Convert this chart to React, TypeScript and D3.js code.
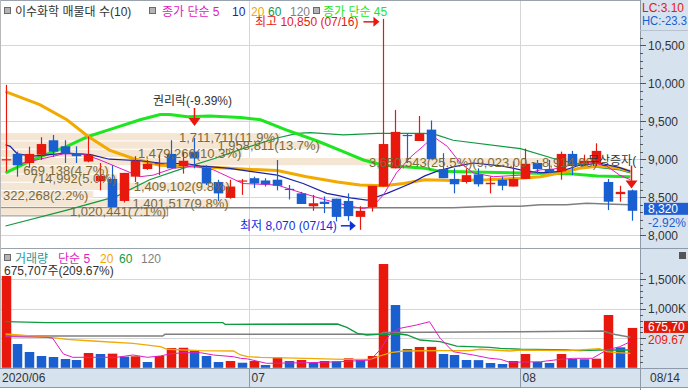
import React from "react";
import * as d3 from "d3";

// ---------------- data ----------------
const opens = [8990, 9070, 8950, 9060, 9250, 9170, 9070, 8970, 8710, 8740, 8450, 8770, 8870, 8940, 9070, 8910, 9100, 8890, 8700, 8490, 8710, 8750, 8720, 8730, 8610, 8550, 8380, 8440, 8480, 8450, 8240, 8370, 8640, 8880, 9320, 9240, 9390, 8870, 8740, 8700, 8800, 8670, 8730, 8640, 8740, 8950, 8870, 8840, 9070, 8940, 8950, 8700, 8540, 8590];
const highs = [9980, 9100, 9165, 9290, 9320, 9250, 9170, 9300, 8950, 8920, 8820, 9040, 8990, 9060, 9250, 9100, 9280, 8920, 8730, 8730, 8740, 8770, 8750, 8990, 8660, 8570, 8530, 8510, 8480, 8550, 8380, 8650, 10850, 9650, 9340, 9570, 9510, 9080, 8880, 8880, 8880, 8770, 8770, 8970, 9140, 8990, 8990, 9100, 9110, 9060, 9210, 8740, 8650, 8600];
const lows = [8840, 8770, 8890, 8990, 9030, 8950, 8950, 8960, 8590, 8370, 8430, 8700, 8860, 8790, 8880, 8810, 8880, 8660, 8450, 8480, 8530, 8620, 8640, 8590, 8470, 8410, 8320, 8290, 8180, 8190, 8070, 8310, 8640, 8880, 8950, 9240, 9000, 8750, 8550, 8680, 8640, 8550, 8590, 8640, 8740, 8810, 8820, 8730, 8790, 8910, 8910, 8330, 8440, 8190];
const closes = [9000, 8920, 9070, 9200, 9100, 9070, 9040, 9060, 8780, 8370, 8820, 8980, 8940, 8950, 8880, 8980, 9010, 8680, 8550, 8640, 8720, 8680, 8670, 8650, 8600, 8410, 8420, 8410, 8240, 8250, 8320, 8650, 9200, 9360, 9310, 9340, 9000, 8750, 8670, 8790, 8670, 8690, 8650, 8740, 8940, 8870, 8830, 9070, 8910, 8980, 9110, 8440, 8570, 8320];
const volumes = [1556000, 403000, 268000, 200000, 183000, 149000, 132000, 251000, 234000, 240000, 189000, 195000, 98000, 200000, 336000, 340000, 290000, 200000, 98000, 115000, 86000, 115000, 47000, 178000, 115000, 132000, 86000, 115000, 110000, 161000, 144000, 200000, 1759000, 1064000, 319000, 353000, 355000, 234000, 217000, 132000, 130000, 81000, 64000, 115000, 234000, 98000, 81000, 234000, 149000, 145000, 155000, 895000, 347000, 675707];

// moving averages: [bar index, value]
const ma5Points: [number, number][] = [[1.2,8940],[2.9,9000],[4.9,9070],[6.6,9070],[8,8990],[9.7,8880],[11.4,8770],[12.5,8790],[14.2,8880],[15.9,8910],[17.6,8860],[20.1,8680],[23,8660],[25.2,8550],[27.2,8460],[29.2,8380],[30.3,8350],[31.1,8380],[32,8530],[33.1,8820],[34.3,9030],[35.5,9190],[36.2,9300],[37.4,9170],[38.5,8950],[39.6,8820],[41.3,8770],[43.6,8790],[45.3,8860],[46.4,8870],[47.8,8920],[49.2,8970],[50.9,8910],[52,8790],[52.9,8730]];
const ma10Points: [number, number][] = [[0,9190],[0.4,9170],[1,9070],[2.3,9040],[5.2,9080],[7.2,9060],[8.8,9000],[11.4,8980],[13.1,8950],[15.4,8940],[16.5,8910],[17.5,8900],[19,8880],[20.7,8840],[23,8790],[25.2,8680],[27.2,8550],[29.2,8490],[30.6,8460],[32.3,8550],[34.3,8680],[35.5,8780],[36.5,8840],[37.9,8900],[39.6,8950],[42.1,8910],[43.6,8860],[45.3,8820],[47,8840],[48.6,8920],[50.3,8950],[52,8890],[52.9,8840]];
const ma20Points: [number, number][] = [[0,9890],[2.9,9720],[5.2,9520],[7,9300],[8.8,9120],[10.8,9010],[13.1,8920],[15.4,8910],[17.7,8890],[20.1,8870],[23,8850],[25.5,8770],[28.1,8700],[30,8660],[32,8650],[33.7,8680],[35.5,8730],[37.9,8720],[40.8,8730],[43.6,8750],[45.3,8770],[47,8820],[48.6,8880],[50.3,8910],[52,8880],[52.9,8840]];
const ma45Points: [number, number][] = [[0,8820],[2.3,8990],[5.2,9170],[7,9300],[8.8,9390],[11.4,9520],[13.1,9590],[13.9,9590],[15.4,9560],[17.3,9570],[19.9,9550],[21.6,9520],[23.7,9390],[26.4,9240],[28.6,9100],[30.3,8990],[32,8920],[35.5,8880],[36.8,8840],[43.6,8820],[47.8,8810],[50.1,8780],[52.9,8770]];
const ma60Points: [number, number][] = [[0,8120],[5.2,8330],[9.4,8510],[12.2,8730],[15.4,8900],[17.7,9010],[20.1,9140],[23,9280],[24.7,9340],[25.8,9350],[28.6,9320],[31.5,9340],[35.5,9340],[36.5,9320],[37.9,9250],[43.6,9140],[46.4,9010],[49.2,8910],[52,8860],[52.9,8820]];
const ma120Points: [number, number][] = [[10.4,8360],[37.9,8360],[41.3,8380],[43.6,8380],[45.3,8400],[47.5,8400],[49.2,8420],[50.9,8410],[52.9,8400]];

const vma5Points: [number, number][] = [[0,527000],[3.5,517000],[4,500000],[4.9,234000],[5.7,178000],[9.4,178000],[10.8,217000],[12,178000],[13.1,200000],[13.9,234000],[15,256000],[16.5,256000],[17.6,217000],[19.3,188000],[19.9,161000],[20.5,150000],[22.1,76000],[25.5,86000],[28.3,103000],[30.9,132000],[31.7,302000],[32.6,585000],[33.4,669000],[34.8,725000],[35.9,781000],[36.8,500000],[37.9,273000],[39.6,217000],[41,161000],[41.9,144000],[42.7,93000],[45.3,103000],[47,144000],[48.1,161000],[49.7,161000],[50.9,302000],[52,358000],[52.9,442000]];
const vma20Points: [number, number][] = [[0,573000],[3.8,517000],[5.2,483000],[7.4,454000],[10.8,415000],[13.1,358000],[13.7,314000],[16.5,290000],[19.3,285000],[19.9,217000],[20.5,188000],[21.6,178000],[25.5,161000],[28.6,144000],[30.9,144000],[31.7,200000],[32.6,256000],[33.7,285000],[36.8,290000],[39.3,290000],[40.2,314000],[42.7,285000],[43.6,302000],[47.5,290000],[48.6,302000],[50.3,324000],[50.9,273000],[51.8,256000],[52.9,246000]];
const vma60Points: [number, number][] = [[0,781000],[3.5,764000],[18.4,764000],[18.6,737000],[28.1,742000],[28.9,686000],[29.8,585000],[30.6,556000],[31.5,568000],[33.4,573000],[34,556000],[35.1,471000],[36.8,442000],[38.2,369000],[41,347000],[41.9,330000],[43.6,314000],[47.5,302000],[48.6,290000],[50.3,302000],[52.9,302000]];
const vma120Points: [number, number][] = [[0,539000],[13.3,539000],[13.5,568000],[31.7,568000],[32,598000],[43.6,612000],[50.6,624000],[51.4,573000],[52.9,517000]];

// volume-at-price bands, bottom to top
const profileVolumes = [1020441, 1401517, 322268, 1409102, 714992, 669138, 3650543, 1479266, 1958811, 1711711];
const profilePercents = ["7.1", "9.8", "2.2", "9.8", "5.0", "4.7", "25.5", "10.3", "13.7", "11.9"];
const profileLow = 8260;
const profileStep = 109;

const priceTicks = [8000, 8500, 9000, 9500, 10000, 10500];
const volumeTicks = [500000, 1000000, 1500000];
const volumeTickLabels = ["", "1,000K", "1,500K"];
const monthTickIndex = [0, 21, 44];
const monthTickLabels = ["2020/06", "07", "08"];
const lastDateLabel = "08/14";
const exRightsIndex = 16;
const bonusIndex = 53;

// ---------------- styles ----------------
const W = 688;
const H = 390;
const FONT = "'Liberation Sans', 'Noto Sans CJK KR', sans-serif";
const RED = "#e8190c";
const BLUE = "#1a5fd0";
const PANEL_BG = "#d7e2ef";
const GRID = "#d6d6d6";
const PLOT_R = 640;
const PRICE_TOP = 0, PRICE_BOT = 248;
const VOL_TOP = 250, VOL_BOT = 368;

let _ctx: CanvasRenderingContext2D | null = null;
function textWidth(s: string, font: string) {
  if (!_ctx) _ctx = document.createElement("canvas").getContext("2d");
  if (!_ctx) return s.length * 7;
  _ctx.font = font;
  return _ctx.measureText(s).width;
}
const fmt = d3.format(",");

export default function App() {
  const N = closes.length;
  const x = d3.scaleLinear().domain([0, N - 1]).range([5.5, 631.5]);
  const py = d3.scaleLinear().domain([8000, 10500]).range([235.1, 45.4]);
  const vy = d3.scaleLinear().domain([0, 1500000]).range([367.8, 279.3]);
  const bw = 9.5;

  const pline = d3.line<[number, number]>().x(d => x(d[0])).y(d => py(d[1]));
  const vline = d3.line<[number, number]>().x(d => x(d[0])).y(d => vy(d[1]));

  const hiIdx = d3.maxIndex(highs);
  const loIdx = d3.minIndex(lows);
  const last = N - 1;
  const chg = ((closes[last] - closes[last - 1]) / closes[last - 1]) * 100;

  const profileMax = d3.max(profileVolumes) as number;
  const profileTotal = d3.sum(profileVolumes);
  const pw = d3.scaleLinear().domain([0, profileMax]).range([0, 598]);
  const labelFont = `13px ${"Liberation Sans"}`;
  const curBand = Math.floor((closes[last] - profileLow) / profileStep);

  const minorPrice = d3.range(8000, 10900, 100);
  const minorVol = d3.range(0, 1700000, 100000);

  const monthX = monthTickIndex.map(i => (i === 0 ? 0 : Math.round(x(i) - bw / 2) + 0.5));

  return (
    <div style={{ position: "fixed", left: 0, top: 0, width: W, height: H, background: "#fff" }}>
      <svg width={W} height={H} style={{ display: "block", fontFamily: FONT }}>
        <defs>
          <clipPath id="cp-price"><rect x={0} y={PRICE_TOP} width={PLOT_R} height={PRICE_BOT - PRICE_TOP} /></clipPath>
          <clipPath id="cp-vol"><rect x={0} y={VOL_TOP} width={PLOT_R} height={VOL_BOT - VOL_TOP} /></clipPath>
        </defs>
        <rect x={0} y={0} width={W} height={H} fill="#fff" />

        {/* grid lines */}
        {priceTicks.map(t => (
          <line key={"pg" + t} x1={0} x2={PLOT_R} y1={Math.round(py(t)) + 0.5} y2={Math.round(py(t)) + 0.5} stroke={GRID} />
        ))}
        {volumeTicks.map(t => (
          <line key={"vg" + t} x1={0} x2={PLOT_R} y1={Math.round(vy(t)) + 0.5} y2={Math.round(vy(t)) + 0.5} stroke={GRID} />
        ))}
        {monthX.slice(1).map((mx, k) => (
          <line key={"mg" + k} x1={mx} x2={mx} y1={0} y2={VOL_BOT} stroke={GRID} />
        ))}

        {/* price panel */}
        <g clipPath="url(#cp-price)">
          {profileVolumes.map((v, k) => {
            const yTop = py(profileLow + (k + 1) * profileStep);
            const yBot = py(profileLow + k * profileStep);
            const label = `${fmt(v)}(${profilePercents[k]}%)`;
            const tw = textWidth(label, labelFont);
            const barW = pw(v);
            const fillW = Math.max(barW, tw + 8);
            return (
              <g key={"pb" + k}>
                <rect x={0} y={yTop + 0.5} width={fillW} height={yBot - yTop - 1} fill="#f4e6d3" />
                {k === curBand && (
                  <rect x={0.5} y={yTop + 0.5} width={barW} height={yBot - yTop} fill="none" stroke="#8c8c8c" />
                )}
              </g>
            );
          })}

          <path d={pline(ma120Points) || ""} fill="none" stroke="#7f7f7f" strokeWidth={1.5} />
          <path d={pline(ma60Points) || ""} fill="none" stroke="#0f9a40" strokeWidth={1.2} />
          <path d={pline(ma45Points) || ""} fill="none" stroke="#1ee61e" strokeWidth={3} />
          <path d={pline(ma20Points) || ""} fill="none" stroke="#f2a900" strokeWidth={3} />
          <path d={pline(ma10Points) || ""} fill="none" stroke="#1c22a8" strokeWidth={1.2} />
          <path d={pline(ma5Points) || ""} fill="none" stroke="#e01cc0" strokeWidth={1} />

          {closes.map((c, i) => {
            const o = opens[i];
            const up = c >= o;
            const col = up ? RED : BLUE;
            const cx = Math.round(x(i)) + 0.5;
            const yT = py(Math.max(o, c));
            const yB = py(Math.min(o, c));
            return (
              <g key={"c" + i}>
                <line x1={cx} x2={cx} y1={py(highs[i])} y2={py(lows[i])} stroke={col} strokeWidth={1.2} />
                <rect x={cx - bw / 2} y={yT} width={bw} height={Math.max(1.2, yB - yT)} fill={col} />
              </g>
            );
          })}

          {/* volume-at-price labels */}
          {profileVolumes.map((v, k) => {
            const yMid = py(profileLow + (k + 0.5) * profileStep);
            const label = k === profileVolumes.indexOf(profileMax)
              ? `${fmt(v)}(${((v / profileTotal) * 100).toFixed(1)}%)(${fmt(profileLow + (k + 1) * profileStep)}.00 ~ ${fmt(profileLow + k * profileStep)}.00)`
              : `${fmt(v)}(${profilePercents[k]}%)`;
            const tw = textWidth(label, labelFont);
            const barW = pw(v);
            const right = barW >= tw + 4;
            return (
              <text key={"pl" + k} x={right ? barW - 1 : 3} y={yMid + 5} textAnchor={right ? "end" : "start"}
                fontSize={13} fontFamily="Liberation Sans" fill="#7b6a3b">{label}</text>
            );
          })}

          {/* annotations */}
          <text x={x(exRightsIndex) - 2} y={py(highs[exRightsIndex]) - 33} textAnchor="middle" fontSize={12} fill="#333">권리락(-9.39%)</text>
          <line x1={x(exRightsIndex)} x2={x(exRightsIndex)} y1={py(highs[exRightsIndex]) - 30} y2={py(highs[exRightsIndex]) - 19} stroke={RED} strokeWidth={1.5} />
          <path d={`M${x(exRightsIndex) - 6},${py(highs[exRightsIndex]) - 20} L${x(exRightsIndex) + 6},${py(highs[exRightsIndex]) - 20} L${x(exRightsIndex)},${py(highs[exRightsIndex]) - 12} Z`} fill={RED} />

          <text x={588} y={py(highs[bonusIndex]) - 25} fontSize={12} fill="#333">무상증자(</text>
          <line x1={x(bonusIndex)} x2={x(bonusIndex)} y1={py(highs[bonusIndex]) - 24} y2={py(highs[bonusIndex]) - 8} stroke={RED} strokeWidth={1.5} />
          <path d={`M${x(bonusIndex) - 6},${py(highs[bonusIndex]) - 9} L${x(bonusIndex) + 6},${py(highs[bonusIndex]) - 9} L${x(bonusIndex)},${py(highs[bonusIndex]) - 1} Z`} fill={RED} />

          <text x={x(hiIdx) - 25} y={py(highs[hiIdx]) + 7.5} textAnchor="end" fontSize={12} fill={RED}>{`최고 ${fmt(highs[hiIdx])} (07/16)`}</text>
          <line x1={x(hiIdx) - 20} x2={x(hiIdx) - 9} y1={py(highs[hiIdx]) + 3} y2={py(highs[hiIdx]) + 3} stroke={RED} strokeWidth={1.5} />
          <path d={`M${x(hiIdx) - 10},${py(highs[hiIdx]) - 2} L${x(hiIdx) - 4},${py(highs[hiIdx]) + 3} L${x(hiIdx) - 10},${py(highs[hiIdx]) + 8} Z`} fill={RED} />

          <text x={x(loIdx) - 23} y={py(lows[loIdx]) + 0} textAnchor="end" fontSize={12} fill="#1030e0">{`최저 ${fmt(lows[loIdx])} (07/14)`}</text>
          <line x1={x(loIdx) - 19} x2={x(loIdx) - 9} y1={py(lows[loIdx]) - 4} y2={py(lows[loIdx]) - 4} stroke="#1030e0" strokeWidth={1.5} />
          <path d={`M${x(loIdx) - 10},${py(lows[loIdx]) - 9} L${x(loIdx) - 4},${py(lows[loIdx]) - 4} L${x(loIdx) - 10},${py(lows[loIdx]) + 1} Z`} fill="#1030e0" />
        </g>

        {/* price legend */}
        <rect x={4.5} y={7.5} width={6} height={6} fill="#b4b4b4" stroke="#6a6a6a" />
        <text x={15} y={15.5} fontSize={12} fill="#333">이수화학 매물대 수(10)</text>
        <rect x={149.5} y={7.5} width={6} height={6} fill="#b4b4b4" stroke="#6a6a6a" />
        <text x={162} y={15.5} fontSize={12} fill="#e01cc0">종가 단순 5</text>
        <text x={232} y={15.5} fontSize={12} fill="#1c22a8">10</text>
        <text x={251} y={15.5} fontSize={12} fill="#f2a900">20</text>
        <text x={268} y={15.5} fontSize={12} fill="#0f9a40">60</text>
        <text x={290} y={15.5} fontSize={12} fill="#7f7f7f">120</text>
        <rect x={313.5} y={7.5} width={6} height={6} fill="#b4b4b4" stroke="#6a6a6a" />
        <text x={323} y={15.5} fontSize={12} fill="#1ee61e">종가 단순 45</text>

        {/* volume panel */}
        <g clipPath="url(#cp-vol)">
          {volumes.map((v, i) => {
            const up = i === 0 || v >= volumes[i - 1];
            const cx = Math.round(x(i)) + 0.5;
            return <rect key={"v" + i} x={cx - bw / 2} y={vy(v)} width={bw} height={vy(0) - vy(v)} fill={up ? RED : BLUE} />;
          })}
          <path d={vline(vma120Points) || ""} fill="none" stroke="#7f7f7f" strokeWidth={1.5} />
          <path d={vline(vma60Points) || ""} fill="none" stroke="#0f9a40" strokeWidth={1.3} />
          <path d={vline(vma20Points) || ""} fill="none" stroke="#f2a900" strokeWidth={1.3} />
          <path d={vline(vma5Points) || ""} fill="none" stroke="#e01cc0" strokeWidth={1} />
        </g>
        <rect x={4.5} y={254.5} width={6} height={6} fill="#b4b4b4" stroke="#6a6a6a" />
        <text x={15} y={263} fontSize={12} fill="#2a9a9a">거래량</text>
        <text x={58} y={263} fontSize={12} fill="#e01cc0">단순 5</text>
        <text x={100} y={263} fontSize={12} fill="#f2a900">20</text>
        <text x={119} y={263} fontSize={12} fill="#0f9a40">60</text>
        <text x={141} y={263} fontSize={12} fill="#7f7f7f">120</text>
        <text x={4} y={275} fontSize={12} fill="#333">{`${fmt(volumes[last])}주(209.67%)`}</text>

        {/* panel separators */}
        <line x1={0} x2={W} y1={248.5} y2={248.5} stroke="#9aa3ad" />
        <line x1={0} x2={W} y1={0.5} y2={0.5} stroke="#9aa3ad" />
        <line x1={0.5} x2={0.5} y1={0} y2={VOL_BOT} stroke="#b8b8b8" />

        {/* right axis panel */}
        <rect x={PLOT_R} y={0} width={W - PLOT_R} height={VOL_BOT} fill={PANEL_BG} />
        <line x1={PLOT_R + 0.5} x2={PLOT_R + 0.5} y1={0} y2={H} stroke="#8e9aaa" />
        <line x1={PLOT_R} x2={W} y1={248.5} y2={248.5} stroke="#8e9aaa" />
        <text x={642} y={12} fontSize={12} fill={RED}>LC:3.10</text>
        <text x={642} y={25} fontSize={12} fill="#1a5fd0" textLength={45} lengthAdjust="spacingAndGlyphs">HC:-23.3</text>
        <line x1={PLOT_R} x2={W} y1={30.5} y2={30.5} stroke="#b8c2d0" />

        {minorPrice.filter(t => py(t) > 32 && py(t) < 246).map(t => (
          <line key={"mt" + t} x1={PLOT_R} x2={PLOT_R + (t % 500 === 0 ? 6 : 3)} y1={Math.round(py(t)) + 0.5} y2={Math.round(py(t)) + 0.5} stroke="#555" />
        ))}
        {priceTicks.map(t => (
          <text key={"pt" + t} x={648} y={py(t) + 4.5} fontSize={12} fill="#333">{fmt(t)}</text>
        ))}
        {minorVol.filter(t => vy(t) > 262 && vy(t) < 368).map(t => (
          <line key={"vt" + t} x1={PLOT_R} x2={PLOT_R + (t % 500000 === 0 ? 6 : 3)} y1={Math.round(vy(t)) + 0.5} y2={Math.round(vy(t)) + 0.5} stroke="#555" />
        ))}
        {volumeTicks.map((t, k) => (
          <text key={"vl" + t} x={648} y={vy(t) + 4.5} fontSize={12} fill="#333">{volumeTickLabels[k]}</text>
        ))}

        {/* current price tag */}
        <rect x={644} y={py(closes[last]) - 8} width={44} height={12} fill="#1f5fd2" />
        <text x={648} y={py(closes[last]) + 2.5} fontSize={12} fill="#fff">{fmt(closes[last])}</text>
        <text x={648} y={py(closes[last]) + 16} fontSize={12} fill="#1a5fd0">{`${chg.toFixed(2)}%`}</text>
        {/* current volume tag */}
        <rect x={644} y={vy(volumes[last]) - 7} width={44} height={12} fill="#e01a0a" />
        <text x={648} y={vy(volumes[last]) + 3.5} fontSize={12} fill="#fff">675,70</text>
        <text x={648} y={vy(volumes[last]) + 16} fontSize={12} fill={RED}>209.67</text>
        <rect x={679} y={252} width={7} height={7} fill="#555" />

        {/* date axis */}
        <rect x={0} y={VOL_BOT} width={W} height={19} fill={PANEL_BG} />
        <line x1={0} x2={W} y1={VOL_BOT + 0.5} y2={VOL_BOT + 0.5} stroke="#8e9aaa" />
        <line x1={0} x2={W} y1={387.5} y2={387.5} stroke="#8e9aaa" />
        {monthX.slice(1).map((mx, k) => (
          <line key={"dt" + k} x1={mx} x2={mx} y1={VOL_BOT} y2={387} stroke="#8e9aaa" />
        ))}
        <line x1={PLOT_R + 0.5} x2={PLOT_R + 0.5} y1={VOL_BOT} y2={387} stroke="#8e9aaa" />
        {monthTickLabels.map((lab, k) => (
          <text key={"dl" + k} x={monthX[k] + 2} y={382} fontSize={12} fill="#333">{lab}</text>
        ))}
        <text x={650} y={382} fontSize={12} fill="#333">{lastDateLabel}</text>
      </svg>
    </div>
  );
}
